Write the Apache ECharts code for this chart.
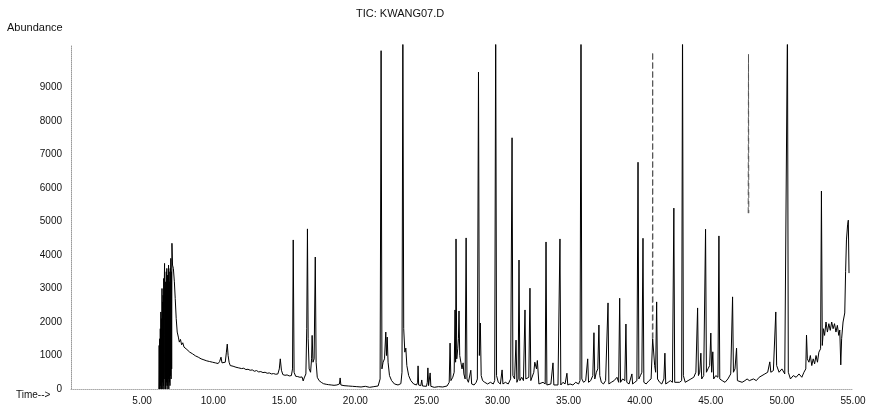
<!DOCTYPE html>
<html>
<head>
<meta charset="utf-8">
<script src="https://cdn.jsdelivr.net/npm/echarts@6/dist/echarts.min.js"></script>
<style>
  html, body { margin: 0; padding: 0; background: #fff; }
  #chart { width: 870px; height: 410px; }
</style>
</head>
<body>
<div id="chart"></div>
<script>
// TIC trace, [retention time (min), abundance]
const traceEarly = [
  [6.18, 0], [6.20, 1300], [6.22, 0], [6.24, 1500], [6.26, 0], [6.28, 1800], [6.30, 100], [6.32, 2300],
  [6.34, 0], [6.36, 2100], [6.38, 0], [6.40, 3000], [6.42, 200], [6.44, 2600], [6.46, 0], [6.48, 2800],
  [6.50, 100], [6.52, 3300], [6.54, 0], [6.56, 3100], [6.58, 3750], [6.60, 300], [6.62, 3000], [6.64, 0],
  [6.66, 3200], [6.68, 100], [6.70, 3500], [6.72, 200], [6.74, 3600], [6.76, 0], [6.78, 3400], [6.80, 100],
  [6.82, 3300], [6.84, 300], [6.86, 3700], [6.88, 0], [6.90, 3500], [6.92, 200], [6.94, 3200], [6.96, 100],
  [6.98, 3600], [7.00, 400], [7.02, 3900], [7.04, 300], [7.06, 3500], [7.08, 600], [7.10, 4350], [7.14, 3700],
  [7.20, 3600], [7.27, 3200], [7.33, 2700], [7.40, 2100], [7.47, 1700], [7.55, 1550], [7.62, 1400], [7.70, 1480],
  [7.78, 1320], [7.86, 1380], [7.95, 1250], [8.05, 1300], [8.15, 1180], [8.25, 1220], [8.35, 1100], [8.45, 1150],
  [8.55, 1050], [8.65, 1080], [8.75, 990], [8.85, 1020], [8.95, 950], [9.05, 970], [9.15, 900], [9.25, 930],
  [9.35, 870], [9.45, 890], [9.55, 840], [9.65, 860], [9.75, 820], [9.85, 840], [9.95, 800], [10.05, 820],
  [10.15, 780], [10.25, 800], [10.35, 760], [10.45, 820], [10.55, 950], [10.62, 780], [10.72, 760], [10.85, 800],
  [10.93, 1100], [10.99, 1340], [11.05, 1000], [11.12, 800], [11.20, 700], [11.30, 720], [11.40, 680], [11.50, 700],
  [11.60, 650], [11.70, 670], [11.80, 630], [11.90, 640], [12.00, 610], [12.15, 620], [12.30, 580], [12.45, 590],
  [12.60, 560], [12.75, 570], [12.90, 530], [13.05, 550], [13.20, 510], [13.35, 520], [13.50, 490], [13.65, 500],
  [13.80, 470], [13.95, 480], [14.10, 450], [14.25, 460], [14.40, 440], [14.55, 450], [14.65, 600], [14.72, 900],
  [14.80, 560], [14.90, 430], [15.05, 410], [15.20, 420], [15.35, 390], [15.50, 400], [15.58, 600], [15.63, 4450],
  [15.69, 500], [15.80, 380], [15.95, 370], [16.10, 350], [16.25, 360], [16.33, 240], [16.40, 330], [16.52, 450],
  [16.58, 1800], [16.63, 4780], [16.68, 1500], [16.75, 600], [16.85, 500], [16.92, 900], [16.96, 1600], [17.02, 800],
  [17.10, 900], [17.18, 3940], [17.24, 800], [17.32, 350], [17.45, 250], [17.60, 200], [17.75, 160], [17.88, 180],
  [17.95, 140], [18.10, 130], [18.30, 120], [18.50, 110], [18.70, 120], [18.88, 150], [18.93, 330], [18.98, 120],
  [19.20, 100], [19.50, 90], [19.80, 80], [20.10, 70]
];

const traceMid = [
  [20.40, 60], [20.70, 80], [21.00, 50], [21.30, 70], [21.60, 90], [21.74, 300], [21.81, 10100], [21.87, 600],
  [21.95, 800], [22.05, 900], [22.14, 1700], [22.19, 1000], [22.24, 1550], [22.30, 800], [22.40, 400], [22.55, 250],
  [22.75, 150], [23.00, 120], [23.20, 160], [23.28, 500], [23.34, 11000], [23.40, 1800], [23.48, 1100], [23.55, 1220],
  [23.62, 700], [23.75, 400], [23.90, 250], [24.10, 150], [24.30, 120], [24.38, 200], [24.41, 690], [24.45, 120],
  [24.60, 100], [24.67, 270], [24.72, 90], [25.00, 80], [25.06, 200], [25.10, 630], [25.15, 100], [25.22, 120],
  [25.26, 480], [25.31, 80], [25.55, 50], [25.85, 70], [26.15, 60], [26.45, 90], [26.60, 200], [26.66, 1370],
  [26.72, 250], [26.85, 350], [26.95, 500], [27.01, 2360], [27.05, 800], [27.08, 4480], [27.13, 900], [27.20, 1200],
  [27.25, 1500], [27.29, 2330], [27.34, 1000], [27.42, 800], [27.50, 600], [27.58, 780], [27.63, 450], [27.72, 300],
  [27.79, 4510], [27.85, 300], [27.95, 200], [28.05, 250], [28.12, 560], [28.18, 150], [28.35, 120], [28.50, 200],
  [28.58, 300], [28.66, 9460], [28.72, 1000], [28.79, 1970], [28.85, 400], [28.95, 250], [29.10, 200], [29.30, 150],
  [29.50, 200], [29.70, 150], [29.80, 250], [29.87, 11000], [29.93, 400], [30.05, 200], [30.20, 150], [30.32, 570],
  [30.38, 150], [30.55, 200], [30.75, 150], [30.92, 300], [31.02, 7500], [31.08, 400], [31.20, 300], [31.30, 1460],
  [31.36, 200], [31.45, 300], [31.51, 3850], [31.57, 250], [31.70, 350], [31.82, 250], [31.93, 2360], [31.99, 300],
  [32.10, 250], [32.20, 350], [32.28, 3010], [32.34, 250], [32.45, 200], [32.55, 500], [32.62, 800], [32.68, 780],
  [32.74, 600], [32.80, 850], [32.85, 870], [32.91, 150], [33.05, 120], [33.20, 200], [33.35, 150], [33.41, 4390],
  [33.47, 120], [33.60, 100], [33.75, 150], [33.90, 780], [33.96, 120], [34.10, 150], [34.25, 120], [34.39, 4480],
  [34.45, 120], [34.60, 200], [34.75, 150], [34.88, 470], [34.94, 120], [35.10, 150], [35.30, 120], [35.50, 200],
  [35.70, 150]
];

const traceLate = [
  [35.80, 250], [35.87, 11000], [35.93, 300], [36.05, 200], [36.20, 250], [36.34, 900], [36.40, 200], [36.55, 250],
  [36.70, 400], [36.78, 1680], [36.84, 300], [36.95, 500], [37.05, 600], [37.13, 1910], [37.19, 400], [37.30, 200],
  [37.45, 150], [37.60, 250], [37.70, 200], [37.77, 2570], [37.83, 150], [38.00, 200], [38.20, 250], [38.40, 350],
  [38.52, 200], [38.59, 2710], [38.65, 200], [38.80, 300], [38.95, 250], [39.03, 1940], [39.09, 200], [39.25, 150],
  [39.45, 450], [39.50, 150], [39.65, 200], [39.80, 250], [39.88, 6770], [39.94, 300], [40.05, 400], [40.15, 500],
  [40.23, 4500], [40.29, 200], [40.45, 150], [40.65, 250], [40.80, 300], [40.91, 1500], [40.97, 1500], [41.05, 700],
  [41.12, 500], [41.19, 2600], [41.25, 300], [41.40, 200], [41.55, 150], [41.70, 300], [41.77, 1070], [41.83, 150],
  [42.00, 200], [42.15, 250], [42.30, 200], [42.40, 5400], [42.46, 200], [42.60, 150], [42.80, 200], [42.95, 250],
  [43.01, 11000], [43.07, 400], [43.20, 200], [43.40, 250], [43.60, 300], [43.80, 350], [43.95, 500], [44.07, 2420],
  [44.13, 400], [44.22, 500], [44.30, 1070], [44.36, 300], [44.50, 400], [44.63, 4770], [44.69, 500], [44.80, 600],
  [44.92, 700], [45.00, 1670], [45.06, 500], [45.14, 1110], [45.20, 300], [45.35, 400], [45.50, 350], [45.57, 4570],
  [45.63, 300], [45.80, 250], [46.00, 200], [46.20, 300], [46.40, 450], [46.53, 2750], [46.59, 500], [46.70, 600],
  [46.81, 1220], [46.87, 250], [47.00, 300], [47.20, 200], [47.40, 250], [47.55, 300], [47.65, 250], [47.71, 250],
  [47.85, 200], [48.00, 300], [48.20, 250], [48.40, 350], [48.60, 400], [48.80, 450], [49.00, 500], [49.15, 810],
  [49.22, 500], [49.40, 550], [49.52, 600], [49.57, 2300], [49.63, 700], [49.80, 500], [50.00, 600], [50.20, 450],
  [50.33, 500], [50.39, 11000], [50.45, 500], [50.60, 300], [50.80, 400], [51.00, 350], [51.20, 450], [51.40, 350],
  [51.55, 500], [51.68, 600], [51.73, 1610], [51.79, 900], [51.90, 800], [52.00, 1000], [52.10, 700], [52.20, 900],
  [52.30, 750], [52.40, 1000], [52.50, 800], [52.60, 1100], [52.72, 1200], [52.78, 5910], [52.84, 1300], [52.92, 1800],
  [53.00, 1600], [53.10, 2000], [53.20, 1700], [53.30, 1950], [53.40, 1750], [53.50, 2000], [53.60, 1800], [53.70, 1950],
  [53.80, 1700], [53.90, 1900], [54.00, 1600], [54.07, 1760], [54.14, 720], [54.20, 1500], [54.30, 2000], [54.42, 2270],
  [54.48, 3500], [54.54, 4450], [54.62, 4900], [54.67, 5040], [54.72, 3460]
];

// two peaks that print only faintly (broken line) on the scan
const faintPeaks = [
  [[40.89, 1500], [40.91, 10060], [40.93, 1500]],
  [[47.63, 5250], [47.65, 10000], [47.67, 5250]]
];

const timeTicks = [5, 10, 15, 20, 25, 30, 35, 40, 45, 50, 55];
const abundanceTicks = [0, 1000, 2000, 3000, 4000, 5000, 6000, 7000, 8000, 9000];

const FONT = 'Liberation Sans, Arial, sans-serif';
const chart = echarts.init(document.getElementById('chart'));

const option = {
  animation: false,
  backgroundColor: '#fff',
  textStyle: { fontFamily: FONT },
  grid: {
    left: 71,
    right: 17,
    top: 45,
    bottom: 21,
    containLabel: false
  },
  xAxis: {
    type: 'value',
    min: 0,
    max: 55,
    interval: 5,
    axisLine: { show: true, lineStyle: { color: '#aaa', type: 'dotted', width: 1 } },
    axisTick: { show: false },
    splitLine: { show: false },
    axisLabel: {
      color: '#111',
      fontSize: 10,
      margin: 7,
      formatter: function (v) {
        return timeTicks.indexOf(v) >= 0 ? v.toFixed(2) : '';
      }
    }
  },
  yAxis: {
    type: 'value',
    min: 0,
    max: 10270,
    interval: 1000,
    axisLine: { show: true, lineStyle: { color: '#999', type: 'dotted', width: 1 } },
    axisTick: { show: false },
    splitLine: { show: false },
    axisLabel: {
      color: '#111',
      fontSize: 10,
      margin: 9,
      showMaxLabel: false,
      formatter: function (v) {
        return abundanceTicks.indexOf(v) >= 0 ? String(v) : '';
      }
    }
  },
  graphic: [
    { type: 'text', left: 356, top: 8,
      style: { text: 'TIC: KWANG07.D', fontSize: 11, fill: '#111', fontFamily: FONT } },
    { type: 'text', left: 7, top: 22,
      style: { text: 'Abundance', fontSize: 11, fill: '#111', fontFamily: FONT } },
    { type: 'text', left: 16, top: 390,
      style: { text: 'Time-->', fontSize: 10, fill: '#111', fontFamily: FONT } }
  ],
  series: [{
    name: 'TIC',
    type: 'line',
    showSymbol: false,
    symbol: 'none',
    clip: true,
    sampling: null,
    lineStyle: { color: '#000', width: 1 },
    data: traceEarly.concat(traceMid, traceLate)
  }].concat(faintPeaks.map(function (pk, i) {
    return {
      name: 'faint' + i,
      type: 'line',
      showSymbol: false,
      symbol: 'none',
      clip: true,
      lineStyle: { color: '#555', width: 1, type: [6, 3] },
      data: pk
    };
  }))
};

chart.setOption(option);
</script>
</body>
</html>
